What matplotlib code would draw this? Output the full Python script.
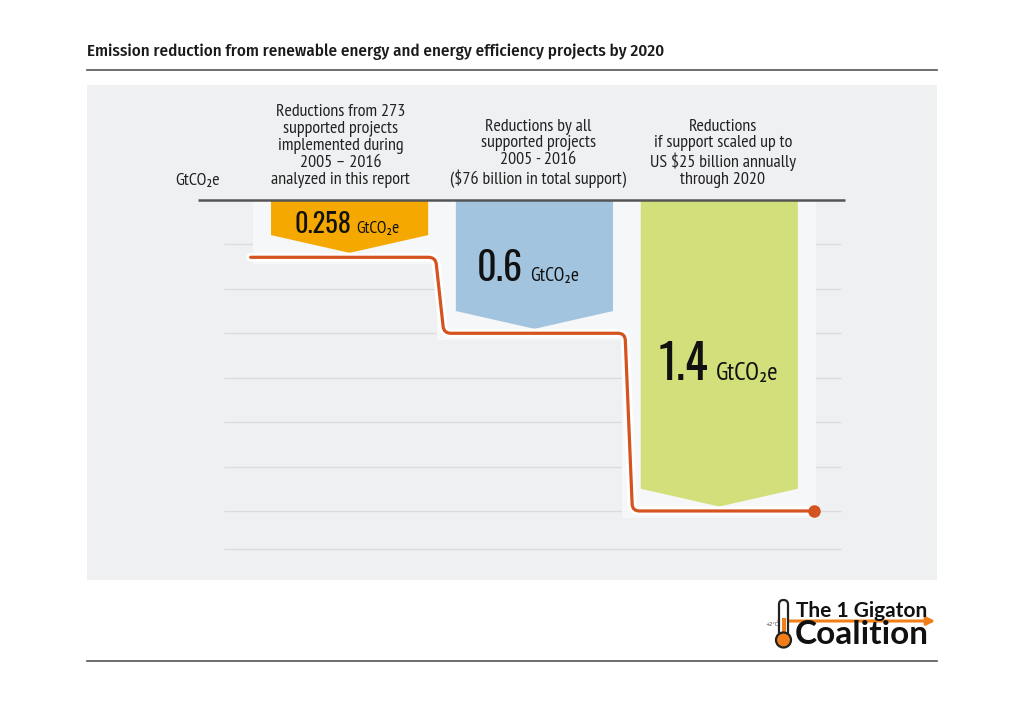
import numpy as np
import matplotlib
matplotlib.use("Agg")
import matplotlib.pyplot as plt
from matplotlib.patches import Polygon, Rectangle, FancyBboxPatch, Circle, PathPatch
from matplotlib.path import Path
import matplotlib.patheffects as pe

# data
values = [0.258, 0.6, 1.4]
value_labels = ["0.258", "0.6", "1.4"]
unit = "GtCO\u2082e"
headers = [
    "Reductions from 273\nsupported projects\nimplemented during\n2005 \u2013 2016\nanalyzed in this report",
    "Reductions by all\nsupported projects\n2005 - 2016\n($76 billion in total support)",
    "Reductions\nif support scaled up to\nUS $25 billion annually\nthrough 2020",
]
bar_colors = ["#f5a800", "#a3c4de", "#d3df7a"]
grid_levels = [0.2, 0.4, 0.6, 0.8, 1.0, 1.2, 1.4, 1.57]
title = "Emission reduction from renewable energy and energy efficiency projects by 2020"

NARROW = ["PT Sans Narrow", "Asap Condensed", "Liberation Sans Narrow", "DejaVu Sans"]
TITLE_F = ["Fira Sans Condensed", "PT Sans Narrow", "DejaVu Sans"]
NUM_F = ["Oswald", "Antonio", "DejaVu Sans"]
LOGO_F = ["Lato", "DejaVu Sans"]
LINE_COL = "#d4531f"
PANEL = "#eff0f2"

W, H = 1024, 724
fig = plt.figure(figsize=(W / 100, H / 100), dpi=100)
fig.patch.set_facecolor("white")

# background axes in pixel units for the frame decorations
bg = fig.add_axes([0, 0, 1, 1], zorder=0)
bg.set_xlim(0, W)
bg.set_ylim(H, 0)
bg.axis("off")
bg.add_patch(Rectangle((87, 85), 850, 495, color=PANEL, lw=0))
bg.plot([87, 937], [70, 70], color="#555555", lw=1.2)
bg.plot([87, 937], [661, 661], color="#555555", lw=1.2)
bg.text(87, 52, title, family=TITLE_F, fontweight=500, fontsize=12.3,
        color="#1a1a1a", va="center", ha="left")

# main chart axes: x in category units, y in GtCO2e (downwards)
ax = fig.add_axes([198 / W, 1 - 555.4 / H, 647 / W, 355.4 / H], zorder=1)
ax.set_xlim(-0.82, 2.68)
ax.set_ylim(1.6, 0)
ax.patch.set_alpha(0)
ax.axis("off")

ax.hlines(grid_levels, -0.68, 2.66, color="#dcdcdc", lw=1.0, zorder=1)

xs = np.arange(len(values))
width = 0.85
notch = 0.08
for x, v, c in zip(xs, values, bar_colors):
    # soft light halo behind bar
    ax.add_patch(Rectangle((x - width / 2 - 0.1, 0), width + 0.2, v + 0.03,
                           color="#f6f7f9", lw=0, zorder=1.5))
    tip = v - 0.02
    shoulder = tip - notch
    poly = [(x - width / 2, 0), (x + width / 2, 0), (x + width / 2, shoulder),
            (x, tip), (x - width / 2, shoulder)]
    ax.add_patch(Polygon(poly, closed=True, color=c, lw=0, zorder=2))

# labels inside bars
num_sizes = [19, 27.5, 34]
unit_sizes = [12.5, 14, 18]
num_right = [0.01, -0.065, -0.06]
unit_left = [0.035, -0.025, -0.02]
baselines = [0.149, 0.365, 0.81]
for i, (x, lab) in enumerate(zip(xs, value_labels)):
    ax.text(x + num_right[i], baselines[i], lab, family=NUM_F, fontweight="bold",
            fontsize=num_sizes[i], ha="right", va="baseline", color="#111111", zorder=5)
    ax.text(x + unit_left[i], baselines[i], unit, family=NARROW,
            fontsize=unit_sizes[i], ha="left", va="baseline", color="#111111", zorder=5)

# step line with rounded corners
step_x = [-0.535, 0.465, 0.51, 1.49, 1.53, 2.51]
step_y = [values[0], values[0], values[1], values[1], values[2], values[2]]
sx, sy = 185.0, 222.1  # px per unit
pts = np.array([[px * sx, py * sy] for px, py in zip(step_x, step_y)])
r = 7.0
verts = [tuple(pts[0])]
codes = [Path.MOVETO]
for k in range(1, len(pts) - 1):
    a, p, b = pts[k - 1], pts[k], pts[k + 1]
    d1 = (p - a) / np.linalg.norm(p - a)
    d2 = (b - p) / np.linalg.norm(b - p)
    verts += [tuple(p - r * d1), tuple(p), tuple(p + r * d2)]
    codes += [Path.LINETO, Path.CURVE3, Path.CURVE3]
verts.append(tuple(pts[-1]))
codes.append(Path.LINETO)
verts = [(vx / sx, vy / sy) for vx, vy in verts]
line = PathPatch(Path(verts, codes), fill=False, edgecolor=LINE_COL, lw=2.3, zorder=4,
                 capstyle="round")
line.set_path_effects([pe.Stroke(linewidth=6.5, foreground="white", alpha=0.9), pe.Normal()])
ax.add_patch(line)
ax.plot([step_x[-1]], [values[-1]], "o", color=LINE_COL, ms=8, zorder=5)

# zero baseline
ax.plot([-0.82, 2.68], [0, 0], color="#555555", lw=1.8, zorder=6, clip_on=False,
        solid_capstyle="butt")

# column headers
head_dx = [-0.05, 0.02, 0.02]
for x, h, dx in zip(xs, headers, head_dx):
    ax.text(x + dx, -0.055, h, family=NARROW, fontsize=13, ha="center", va="bottom",
            linespacing=1.07, color="#222222", clip_on=False)
ax.text(-0.82, -0.085, unit, family=NARROW, fontsize=13, ha="center", va="center",
        color="#222222", clip_on=False)

# logo
bg.annotate("", xy=(938, 621), xytext=(776, 621),
            arrowprops=dict(arrowstyle="-|>", color="#f07f1a", lw=2.2, mutation_scale=12))
bg.add_patch(FancyBboxPatch((779, 600), 9, 40, boxstyle="round,pad=0,rounding_size=4.5",
                            fc="white", ec="#222222", lw=1.6, zorder=3))
bg.add_patch(Rectangle((781.5, 618), 4, 22, color="#f07f1a", lw=0, zorder=4))
bg.add_patch(Circle((783.5, 640), 7.5, fc="#f07f1a", ec="#222222", lw=1.6, zorder=4))
bg.text(772, 624, "+2\u00b0C", fontsize=3.5, ha="center", va="center", color="#444444")
bg.text(796, 611, "The 1 Gigaton", family=LOGO_F, fontweight="bold",
        fontsize=15, ha="left", va="center", color="#111111", zorder=5)
bg.text(795, 634, "Coalition", family=LOGO_F, fontweight="bold",
        fontsize=24, ha="left", va="center", color="#111111", zorder=5)

fig.savefig("out.png", dpi=100)
